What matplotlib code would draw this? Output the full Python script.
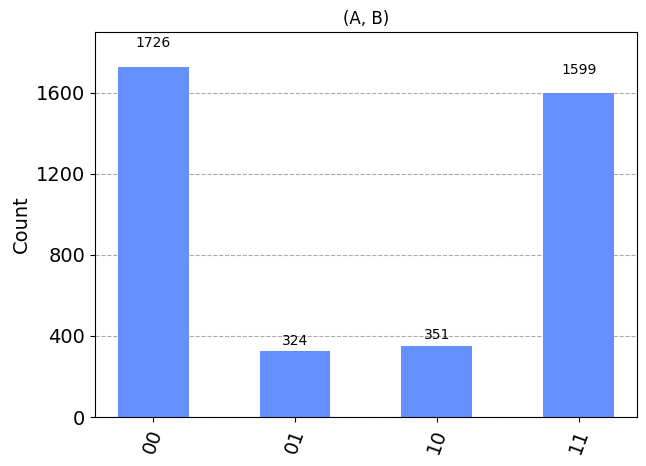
import matplotlib
matplotlib.use("Agg")
from matplotlib import pyplot as plt

labels = ['00', '01', '10', '11']
counts = [1726, 324, 351, 1599]
yticks = [0, 400, 800, 1200, 1600]

fig = plt.figure(figsize=(6.46, 4.66), dpi=100)
ax = fig.add_axes([0.147, 0.105, 0.839, 0.826])
x = range(len(labels))
ax.bar(x, counts, width=0.5, color='#648fff', zorder=2)
for xi, c in zip(x, counts):
    ax.text(xi, c * 1.05, str(c), ha='center', va='bottom', fontsize=10)

ax.set_xlim(-0.41, 3.41)
ax.set_ylim(0, max(counts) * 1.1)
ax.set_xticks(list(x))
ax.set_xticklabels(labels, rotation=70, fontsize=14)
ax.set_yticks(yticks)
ax.tick_params(axis='y', labelsize=14)
ax.set_ylabel('Count', fontsize=14)
ax.set_title('(A, B)')
ax.yaxis.grid(True, linestyle='--', color='#aaaaaa', zorder=0)
ax.set_axisbelow(True)

plt.savefig('out.png')
